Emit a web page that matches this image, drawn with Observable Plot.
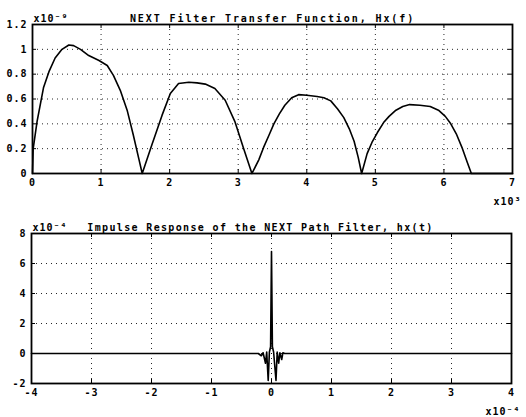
<!DOCTYPE html>
<html><head><meta charset="utf-8">
<script src="https://cdn.jsdelivr.net/npm/d3@7"></script>
<script src="https://cdn.jsdelivr.net/npm/@observablehq/plot@0.6"></script>
<style>
body{margin:0;background:#fff;width:526px;height:417px;overflow:hidden}
svg{display:block}
</style></head><body><div id="c"></div>
<script>
// Top: NEXT filter transfer function |Hx(f)|  (f in x10^3, value in x10^-9)
const freqX = [0,0.01,0.067,0.16,0.24,0.33,0.43,0.53,0.6,0.7,0.82,0.97,1.09,1.18,1.28,1.38,1.47,1.55,1.6,
  1.74,1.89,2.01,2.13,2.28,2.4,2.52,2.66,2.81,2.95,3.08,3.2,
  3.3,3.37,3.45,3.52,3.6,3.68,3.78,3.88,4.0,4.15,4.25,4.35,4.45,4.54,4.62,4.69,4.75,4.8,
  4.88,4.95,5.03,5.12,5.2,5.3,5.4,5.5,5.65,5.8,5.92,6.02,6.1,6.18,6.27,6.34,6.4,7];
const freqY = [0,0.2,0.42,0.69,0.82,0.93,1.0,1.035,1.03,1.0,0.95,0.91,0.87,0.79,0.67,0.51,0.31,0.12,0,
  0.23,0.47,0.645,0.725,0.735,0.73,0.72,0.685,0.59,0.42,0.2,0,
  0.11,0.21,0.31,0.4,0.48,0.55,0.61,0.635,0.63,0.62,0.61,0.585,0.52,0.45,0.36,0.26,0.13,0,
  0.16,0.25,0.33,0.41,0.46,0.51,0.54,0.555,0.55,0.54,0.51,0.46,0.4,0.32,0.2,0.09,0,0];
// Bottom: impulse response hx(t)  (t in x10^-4, value in x10^-4)
const timeX = [-4,-0.22,-0.17,-0.14,-0.1,-0.08,-0.055,-0.035,-0.015,0,0.015,0.035,0.075,0.095,0.12,0.14,0.17,0.19,0.22,4];
const timeY = [0,0,-0.15,0.05,-0.65,0.1,-1.8,0.1,0.45,6.8,0.45,0.1,-1.8,0.1,-0.65,0.05,-0.4,0.05,0,0];

const topXTicks = [0,1,2,3,4,5,6,7];
const topYTicks = [0,0.2,0.4,0.6,0.8,1,1.2];
const botXTicks = [-4,-3,-2,-1,0,1,2,3,4];
const botYTicks = [-2,0,2,4,6,8];
const topTitle = "NEXT Filter Transfer Function, Hx(f)";
const botTitle = "Impulse Response of the NEXT Path Filter, hx(t)";
const topYExp = "x10⁻⁹", topXExp = "x10³";
const botYExp = "x10⁻⁴", botXExp = "x10⁻⁴";

function panel(o) {
  const data = o.xs.map((x, i) => ({x, y: o.ys[i]}));
  const H = o.height - o.mt - o.mb, W = 526 - o.ml - o.mr;
  const inner = (a) => a.slice(1, -1);
  const grid = {stroke: "black", strokeOpacity: 0.85, strokeDasharray: "1,4", strokeWidth: 1};
  return Plot.plot({
    width: 526, height: o.height,
    marginTop: o.mt, marginBottom: o.mb, marginLeft: o.ml, marginRight: o.mr,
    x: {domain: o.xDomain}, y: {domain: o.yDomain},
    style: {fontFamily: "DejaVu Sans Mono", fontSize: "10px", fontWeight: "bold", color: "black", background: "white", overflow: "visible"},
    marks: [
      Plot.gridX(inner(o.xTicks), grid),
      Plot.gridY(inner(o.yTicks), grid),
      Plot.tickX(o.xTicks, {x: d => d, insetTop: H - 4, stroke: "black"}),
      Plot.tickX(o.xTicks, {x: d => d, insetBottom: H - 4, stroke: "black"}),
      Plot.tickY(o.yTicks, {y: d => d, insetRight: W - 4, stroke: "black"}),
      Plot.tickY(o.yTicks, {y: d => d, insetLeft: W - 4, stroke: "black"}),
      Plot.line(data, {x: "x", y: "y", stroke: "black", strokeWidth: 1.6}),
      Plot.frame({stroke: "black", strokeWidth: 1.8}),
      Plot.axisX(o.xTicks, {tickSize: 0, tickPadding: 5, tickFormat: d => String(d), label: null}),
      Plot.axisY(o.yTicks, {tickSize: 0, tickPadding: 5, tickFormat: d => String(d), label: null}),
      Plot.text([o.title], {frameAnchor: "top", lineAnchor: "bottom", dy: -3, dx: o.titleDx}),
      Plot.text([o.yExp], {frameAnchor: "top-left", textAnchor: "start", lineAnchor: "bottom", dy: -3, dx: 1}),
      Plot.text([o.xExp], {frameAnchor: "bottom-right", textAnchor: "end", lineAnchor: "bottom", dy: 31, dx: 9})
    ]
  });
}

const topPanel = panel({xDomain: [0, 7], yDomain: [0, 1.2], xTicks: topXTicks, yTicks: topYTicks,
  xs: freqX, ys: freqY, title: topTitle, titleDx: 0, yExp: topYExp, xExp: topXExp,
  height: 208, mt: 24, mb: 35, ml: 32, mr: 14});
const botPanel = panel({xDomain: [-4, 4], yDomain: [-2, 8], xTicks: botXTicks, yTicks: botYTicks,
  xs: timeX, ys: timeY, title: botTitle, titleDx: -11, yExp: botYExp, xExp: botXExp,
  height: 209, mt: 25, mb: 34, ml: 31, mr: 15});
const c = document.getElementById("c");
c.append(topPanel, botPanel);
d3.selectAll("svg text").attr("letter-spacing", 1);
d3.selectAll("svg text").filter(function(){return this.textContent === topTitle;}).attr("letter-spacing", 1.9);
d3.selectAll("svg text").filter(function(){return this.textContent === botTitle;}).attr("letter-spacing", 1.35);
</script></body></html>
